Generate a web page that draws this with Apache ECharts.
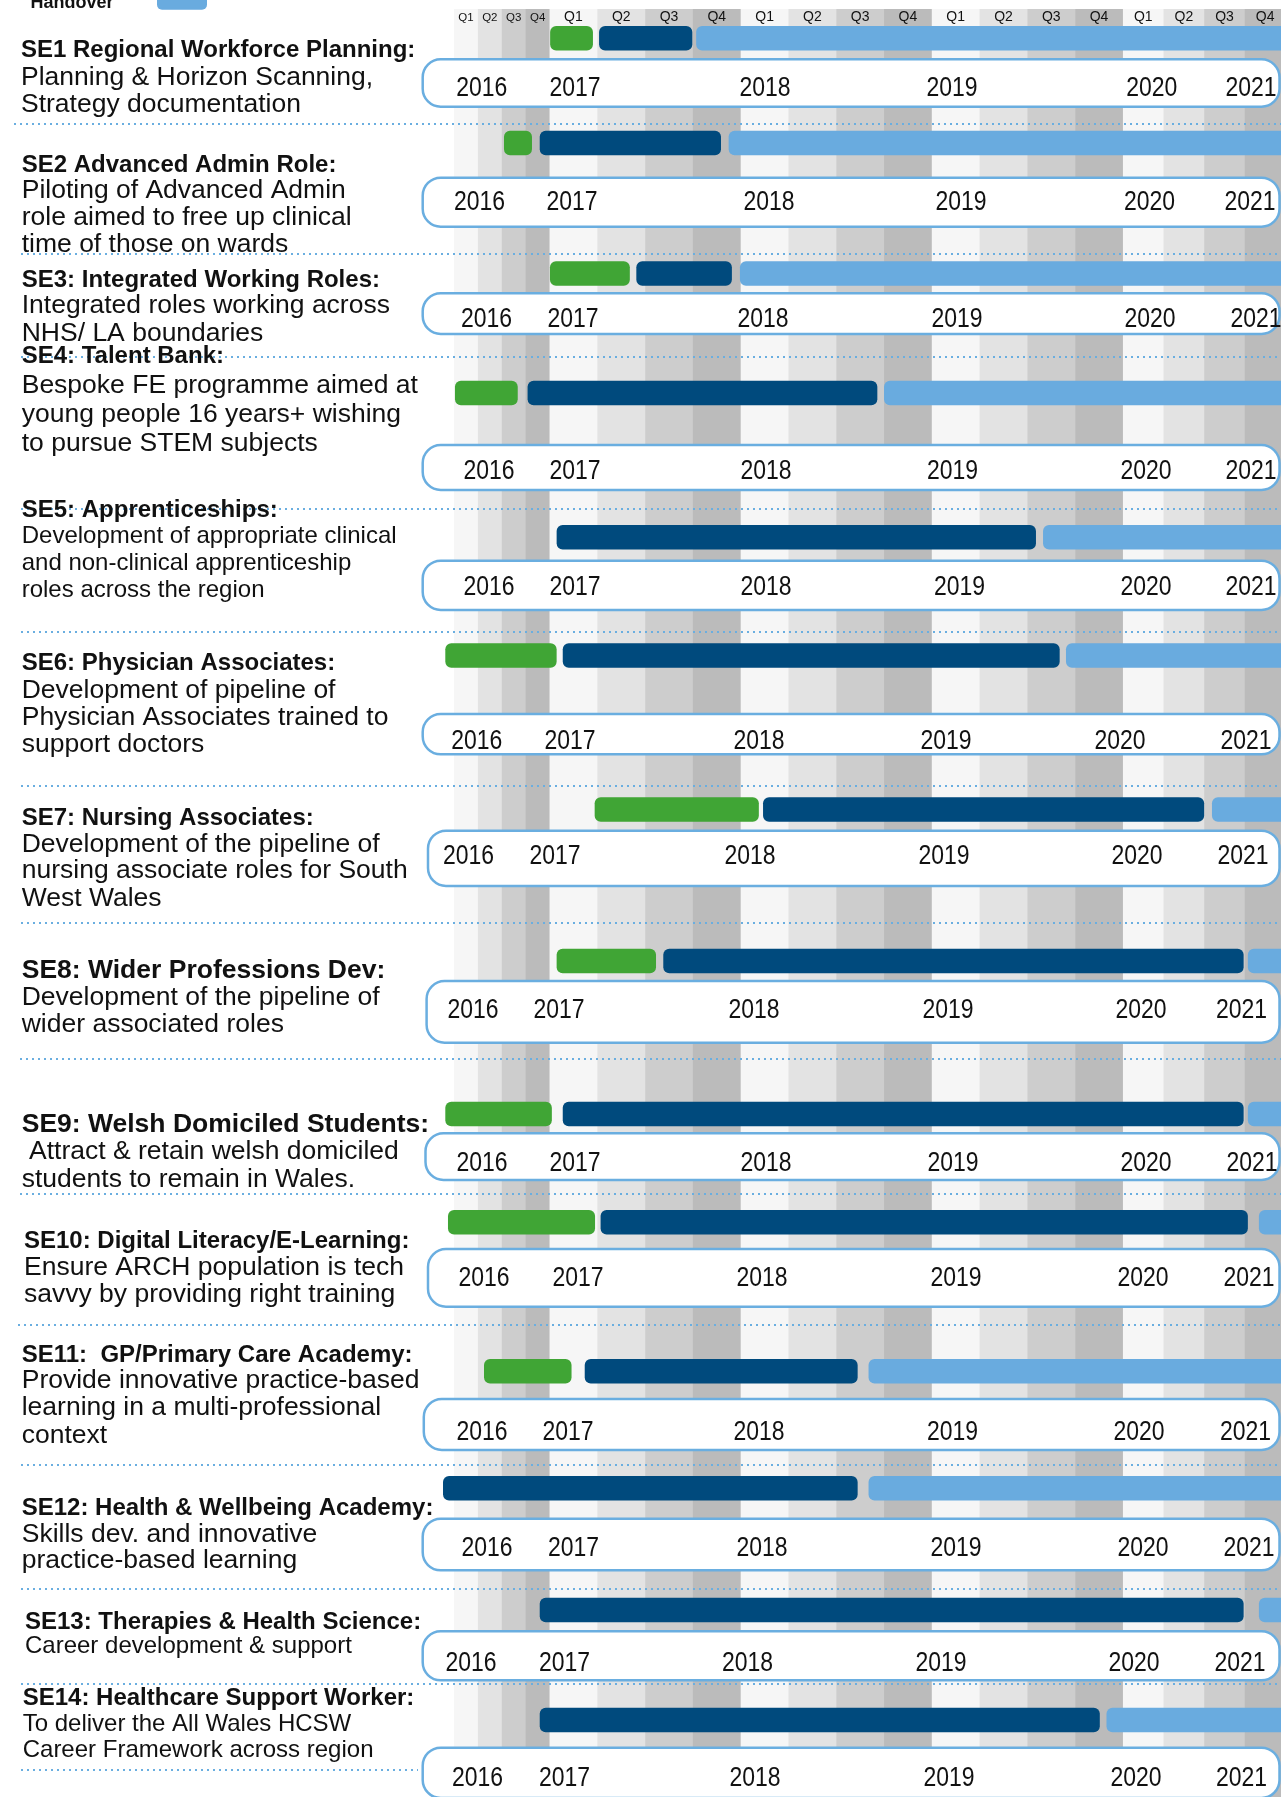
<!DOCTYPE html>
<html>
<head>
<meta charset="utf-8">
<title>Workforce programme timeline</title>
<script src="https://cdn.jsdelivr.net/npm/echarts@6/dist/echarts.min.js"></script>
<style>
  html, body { margin: 0; padding: 0; background: #ffffff; }
  #chart { width: 1281px; height: 1797px; }
</style>
</head>
<body>
<div id="chart"></div>
<script>
// ---------- data ----------
const YEARS = [2016, 2017, 2018, 2019, 2020];
const QUARTER_LABELS = ['Q1', 'Q2', 'Q3', 'Q4'];
const TIMELINE_LABELS = ['2016', '2017', '2018', '2019', '2020', '2021'];
const PHASE_NAMES = ['Planning', 'Delivery', 'Handover'];

const ROW_IDS = ['SE1', 'SE2', 'SE3', 'SE4', 'SE5', 'SE6', 'SE7',
                 'SE8', 'SE9', 'SE10', 'SE11', 'SE12', 'SE13', 'SE14'];

const ROW_TITLES = [
  'SE1 Regional Workforce Planning:',
  'SE2 Advanced Admin Role:',
  'SE3: Integrated Working Roles:',
  'SE4: Talent Bank:',
  'SE5: Apprenticeships:',
  'SE6: Physician Associates:',
  'SE7: Nursing Associates:',
  'SE8: Wider Professions Dev:',
  'SE9: Welsh Domiciled Students:',
  'SE10: Digital Literacy/E-Learning:',
  'SE11:  GP/Primary Care Academy:',
  'SE12: Health & Wellbeing Academy:',
  'SE13: Therapies & Health Science:',
  'SE14: Healthcare Support Worker:'
];

const ROW_DESCRIPTIONS = [
  ['Planning & Horizon Scanning,', 'Strategy documentation'],
  ['Piloting of Advanced Admin', 'role aimed to free up clinical', 'time of those on wards'],
  ['Integrated roles working across', 'NHS/ LA boundaries'],
  ['Bespoke FE programme aimed at', 'young people 16 years+ wishing', 'to pursue STEM subjects'],
  ['Development of appropriate clinical', 'and non-clinical apprenticeship', 'roles across the region'],
  ['Development of pipeline of', 'Physician Associates trained to', 'support doctors'],
  ['Development of the pipeline of', 'nursing associate roles for South', 'West Wales'],
  ['Development of the pipeline of', 'wider associated roles'],
  [' Attract & retain welsh domiciled', 'students to remain in Wales.'],
  ['Ensure ARCH population is tech', 'savvy by providing right training'],
  ['Provide innovative practice-based', 'learning in a multi-professional', 'context'],
  ['Skills dev. and innovative', 'practice-based learning'],
  ['Career development & support'],
  ['To deliver the All Wales HCSW', 'Career Framework across region']
];

// phase spans in fractional calendar years [start, end]; null = no such phase
const PLANNING = [
  [2017.003, 2017.227],
  [2016.523, 2016.816],
  [2017.002, 2017.420],
  [2016.010, 2016.667],
  null,
  [2015.909, 2017.037],
  [2017.236, 2018.095],
  [2017.037, 2017.557],
  [2015.909, 2017.012],
  [2015.937, 2017.238],
  [2016.314, 2017.115],
  null,
  null,
  null
];
const DELIVERY = [
  [2017.259, 2017.747],
  [2016.897, 2017.897],
  [2017.454, 2017.954],
  [2016.770, 2018.715],
  [2017.037, 2019.545],
  [2017.069, 2019.669],
  [2018.117, 2020.500],
  [2017.595, 2020.743],
  [2017.069, 2020.743],
  [2017.267, 2020.769],
  [2017.184, 2018.612],
  [2015.885, 2018.612],
  [2016.897, 2020.743],
  [2016.897, 2019.879]
];
// handover runs on past the end of the visible window
const HANDOVER = [
  [2017.767, 2021.5],
  [2017.937, 2021.5],
  [2017.996, 2021.5],
  [2018.750, 2021.5],
  [2019.582, 2021.5],
  [2019.702, 2021.5],
  [2020.548, 2021.5],
  [2020.769, 2021.5],
  [2020.769, 2021.5],
  [2020.837, 2021.5],
  [2018.669, 2021.5],
  [2018.669, 2021.5],
  [2020.837, 2021.5],
  [2019.914, 2021.5]
];

// ---------- layout & style ----------
const LAYOUT = {
  plotLeft: 454,
  plotRight: 1281,
  viewEnd: 2020.973,
  yearWeight: { 2016: 0.5, 2017: 1, 2018: 1, 2019: 1, 2020: 0.85, 2021: 0.85 },
  bandTop: 9,
  headerY: 17.5,
  barHeight: 24.5,
  barTop: [26, 130.7, 261.3, 380.7, 525, 643.3, 797.3, 948.7, 1101.7, 1210, 1359, 1476, 1597.7, 1707.7],
  // [left, top, bottom] of the white timeline strip under each row
  pill: [
    [422.7, 59.3, 106.7], [422.7, 177.7, 226.7], [422.7, 293.3, 334], [422.7, 445, 490],
    [422.7, 560.7, 610], [422.7, 714, 754.3], [428, 830.7, 886], [426.6, 981, 1042.7],
    [425.5, 1133.3, 1180], [428, 1249, 1306.7], [423.8, 1399, 1450], [422.7, 1518.7, 1570.3],
    [422.7, 1631.3, 1680.3], [422.7, 1747.7, 1798]
  ],
  pillRight: 1279.5,
  // centre x of each year label in the strip, and the label row's centre y
  yearLabelX: [
    [481.8, 575, 765, 952, 1151.7, 1251],
    [479.5, 572, 769, 961, 1149.5, 1250],
    [486.6, 573, 763, 957, 1150, 1256],
    [489, 575, 766, 952.5, 1146, 1251],
    [489, 575, 766, 959.6, 1146, 1251],
    [476.8, 570, 759, 946, 1120, 1246],
    [468.6, 555, 750, 944, 1137, 1243],
    [473, 559, 754, 948, 1141, 1241.6],
    [482, 575, 766, 953, 1146, 1252],
    [484, 578, 762, 956, 1143, 1249],
    [482, 568, 759, 952.5, 1139, 1245.6],
    [487, 573.5, 762, 956, 1143, 1249],
    [471, 564.6, 747.6, 941, 1134, 1240],
    [477.6, 564.6, 755, 949, 1136, 1241.6]
  ],
  yearLabelY: [88.3, 202.7, 319, 471, 587.7, 741, 856, 1010, 1163.3, 1278.3, 1432.7, 1548, 1663, 1778],
  // left-hand text block: x, title baseline, title size, description baselines, description size
  text: [
    { x: 21, t: 56.7, ts: 24, d: [85, 111.7], ds: 26.5 },
    { x: 21.7, t: 171.7, ts: 24, d: [198.3, 224.8, 251.5], ds: 26.5 },
    { x: 21.7, t: 286.7, ts: 24, d: [313.3, 340.7], ds: 26.5 },
    { x: 21.7, t: 362.5, ts: 24, d: [393.3, 421.7, 451], ds: 26.5 },
    { x: 21.7, t: 516.7, ts: 24, d: [543.3, 570, 597.3], ds: 24 },
    { x: 21.7, t: 670, ts: 24, d: [698.3, 725, 751.7], ds: 26.5 },
    { x: 21.7, t: 825, ts: 24, d: [851.7, 878.3, 906], ds: 26.5 },
    { x: 21.7, t: 978.3, ts: 26.5, d: [1005, 1031.7], ds: 26.5 },
    { x: 21.7, t: 1131.7, ts: 26.5, d: [1159.3, 1186.7], ds: 26.5 },
    { x: 24, t: 1248.3, ts: 24, d: [1274.7, 1301.7], ds: 26.5 },
    { x: 21.7, t: 1361.7, ts: 24, d: [1388.3, 1415, 1442.7], ds: 26.5 },
    { x: 21.7, t: 1515, ts: 24, d: [1541.7, 1568.3], ds: 26.5 },
    { x: 25, t: 1629, ts: 24, d: [1653.3], ds: 24 },
    { x: 22.7, t: 1705, ts: 24, d: [1731, 1757.3], ds: 24 }
  ],
  // dotted row dividers: [y, x start, x end]
  dividers: [
    [124, 14, 1281], [254, 21, 1281], [357, 21, 1281], [509, 21, 1281], [632, 21, 1281],
    [786, 21, 1281], [923, 21, 1281], [1059, 20, 1281], [1194, 20, 1281], [1325, 18, 1281],
    [1465, 21, 1281], [1589, 21, 1281], [1684, 21, 1281], [1770, 21, 418]
  ]
};

const FONT = "'Liberation Sans', Arial, Helvetica, sans-serif";
const NARROW = "'Liberation Sans Narrow', 'Arial Narrow'";
const BAND_COLORS = ['#f6f6f6', '#e3e3e3', '#cdcdcd', '#bbbbbb'];
const PHASE_COLORS = ['#40a535', '#004a7d', '#69abdf'];
const STRIP_BLUE = '#6aaee0';
const INK = '#111111';
const MID = 0.27; // baseline-to-middle offset used for left-hand text, in em

// each calendar year gets its own share of the horizontal scale
function yearWeight(y) { return LAYOUT.yearWeight[y] !== undefined ? LAYOUT.yearWeight[y] : 1; }
function warp(t) {
  const first = YEARS[0];
  if (t < first) return (t - first) * yearWeight(first);
  let u = 0, y = first;
  while (t >= y + 1) { u += yearWeight(y); y++; }
  return u + (t - y) * yearWeight(y);
}

function fontAvailable(name) {
  const ctx = document.createElement('canvas').getContext('2d');
  ctx.font = '40px monospace';
  const base = ctx.measureText('2016 2017').width;
  ctx.font = `40px ${name}, monospace`;
  return Math.abs(ctx.measureText('2016 2017').width - base) > 0.5;
}
const hasNarrow = fontAvailable("'Liberation Sans Narrow'");
const yearFont = hasNarrow ? `${NARROW}, ${FONT}` : FONT;
const yearScaleX = hasNarrow ? 1 : 0.82;

// ---------- coordinate systems ----------
const plotWidth = LAYOUT.plotRight - LAYOUT.plotLeft;
const xMax = warp(LAYOUT.viewEnd);

const grids = [{ left: LAYOUT.plotLeft, width: plotWidth, top: LAYOUT.bandTop, bottom: 0 }];
const xAxes = [{ type: 'value', gridIndex: 0, min: 0, max: xMax, show: false }];
const yAxes = [{ type: 'value', gridIndex: 0, min: 0, max: 1, show: false }];

ROW_IDS.forEach((id, i) => {
  grids.push({ left: LAYOUT.plotLeft, width: plotWidth, top: LAYOUT.barTop[i], height: LAYOUT.barHeight });
  xAxes.push({ type: 'value', gridIndex: i + 1, min: 0, max: xMax, show: false });
  yAxes.push({ type: 'category', gridIndex: i + 1, data: [id], show: false });
});

// ---------- quarter background columns ----------
const quarterSpans = [];
YEARS.forEach(y => {
  QUARTER_LABELS.forEach((q, qi) => {
    quarterSpans.push([warp(y + qi / 4), warp(y + (qi + 1) / 4), qi, 0]);
  });
});

const bandSeries = {
  type: 'custom',
  name: 'quarters',
  xAxisIndex: 0,
  yAxisIndex: 0,
  z: 0,
  silent: true,
  clip: false,
  encode: { x: [0, 1], y: 3 },
  data: quarterSpans,
  renderItem(params, api) {
    const cs = params.coordSys;
    const x0 = api.coord([api.value(0), 0])[0];
    const x1 = api.coord([api.value(1), 0])[0];
    const qi = api.value(2);
    const w = x1 - x0;
    return {
      type: 'group',
      children: [
        { type: 'rect', shape: { x: x0, y: cs.y, width: w + 0.4, height: cs.height }, style: { fill: BAND_COLORS[qi] } },
        {
          type: 'text', x: (x0 + x1) / 2, y: LAYOUT.headerY,
          style: {
            text: QUARTER_LABELS[qi], fontFamily: FONT, fontSize: w < 30 ? 11.5 : 14,
            fill: INK, align: 'center', verticalAlign: 'middle'
          }
        }
      ]
    };
  }
};

// ---------- phase bars, one small grid per programme row ----------
const rowSeries = ROW_IDS.map((id, i) => {
  const spans = [PLANNING[i], DELIVERY[i], HANDOVER[i]];
  const data = [];
  spans.forEach((s, phase) => {
    if (s) data.push({ value: [warp(s[0]), warp(s[1]), phase, 0], name: PHASE_NAMES[phase] });
  });
  return {
    type: 'custom',
    name: id,
    xAxisIndex: i + 1,
    yAxisIndex: i + 1,
    z: 5,
    clip: false,
    encode: { x: [0, 1], y: 3 },
    data,
    renderItem(params, api) {
      const a = api.coord([api.value(0), 0]);
      const b = api.coord([api.value(1), 0]);
      const h = api.size([0, 1])[1];
      return {
        type: 'rect',
        shape: { x: a[0], y: a[1] - h / 2, width: b[0] - a[0], height: h, r: 6 },
        style: { fill: PHASE_COLORS[api.value(2)] }
      };
    }
  };
});

// ---------- decorations: dividers, timeline strips, text ----------
const elements = [];

LAYOUT.dividers.forEach(([y, x0, x1]) => {
  elements.push({
    type: 'line', z: 2, silent: true,
    shape: { x1: x0, y1: y, x2: x1, y2: y },
    style: { stroke: STRIP_BLUE, lineWidth: 2, lineDash: [2, 4] }
  });
});

ROW_IDS.forEach((id, i) => {
  const [left, top, bottom] = LAYOUT.pill[i];
  elements.push({
    type: 'rect', z: 3, silent: true,
    shape: { x: left, y: top, width: LAYOUT.pillRight - left, height: bottom - top, r: 18 },
    style: { fill: '#ffffff', stroke: STRIP_BLUE, lineWidth: 2.5 }
  });
  TIMELINE_LABELS.forEach((label, k) => {
    elements.push({
      type: 'text', z: 4, silent: true,
      x: LAYOUT.yearLabelX[i][k], y: LAYOUT.yearLabelY[i], scaleX: yearScaleX,
      style: { text: label, fontFamily: yearFont, fontSize: 28, fill: INK, align: 'center', verticalAlign: 'middle' }
    });
  });

  const t = LAYOUT.text[i];
  elements.push({
    type: 'text', z: 4, silent: true,
    x: t.x, y: t.t - MID * t.ts,
    style: {
      text: ROW_TITLES[i], fontFamily: FONT, fontWeight: 'bold', fontSize: t.ts,
      fill: INK, align: 'left', verticalAlign: 'middle'
    }
  });
  ROW_DESCRIPTIONS[i].forEach((line, k) => {
    elements.push({
      type: 'text', z: 4, silent: true,
      x: t.x, y: t.d[k] - MID * t.ds,
      style: { text: line, fontFamily: FONT, fontSize: t.ds, fill: INK, align: 'left', verticalAlign: 'middle' }
    });
  });
});

// legend entry that sits at the top edge
elements.push({
  type: 'text', z: 4, silent: true, x: 30.6, y: 8 - MID * 18,
  style: { text: 'Handover', fontFamily: FONT, fontWeight: 'bold', fontSize: 18, fill: INK, align: 'left', verticalAlign: 'middle' }
});
elements.push({
  type: 'rect', z: 4, silent: true,
  shape: { x: 157, y: -14, width: 50, height: 23.7, r: 5 },
  style: { fill: PHASE_COLORS[2] }
});

const chart = echarts.init(document.getElementById('chart'), null, { renderer: 'canvas' });
chart.setOption({
  animation: false,
  backgroundColor: '#ffffff',
  grid: grids,
  xAxis: xAxes,
  yAxis: yAxes,
  series: [bandSeries].concat(rowSeries),
  graphic: { elements }
});
</script>
</body>
</html>
